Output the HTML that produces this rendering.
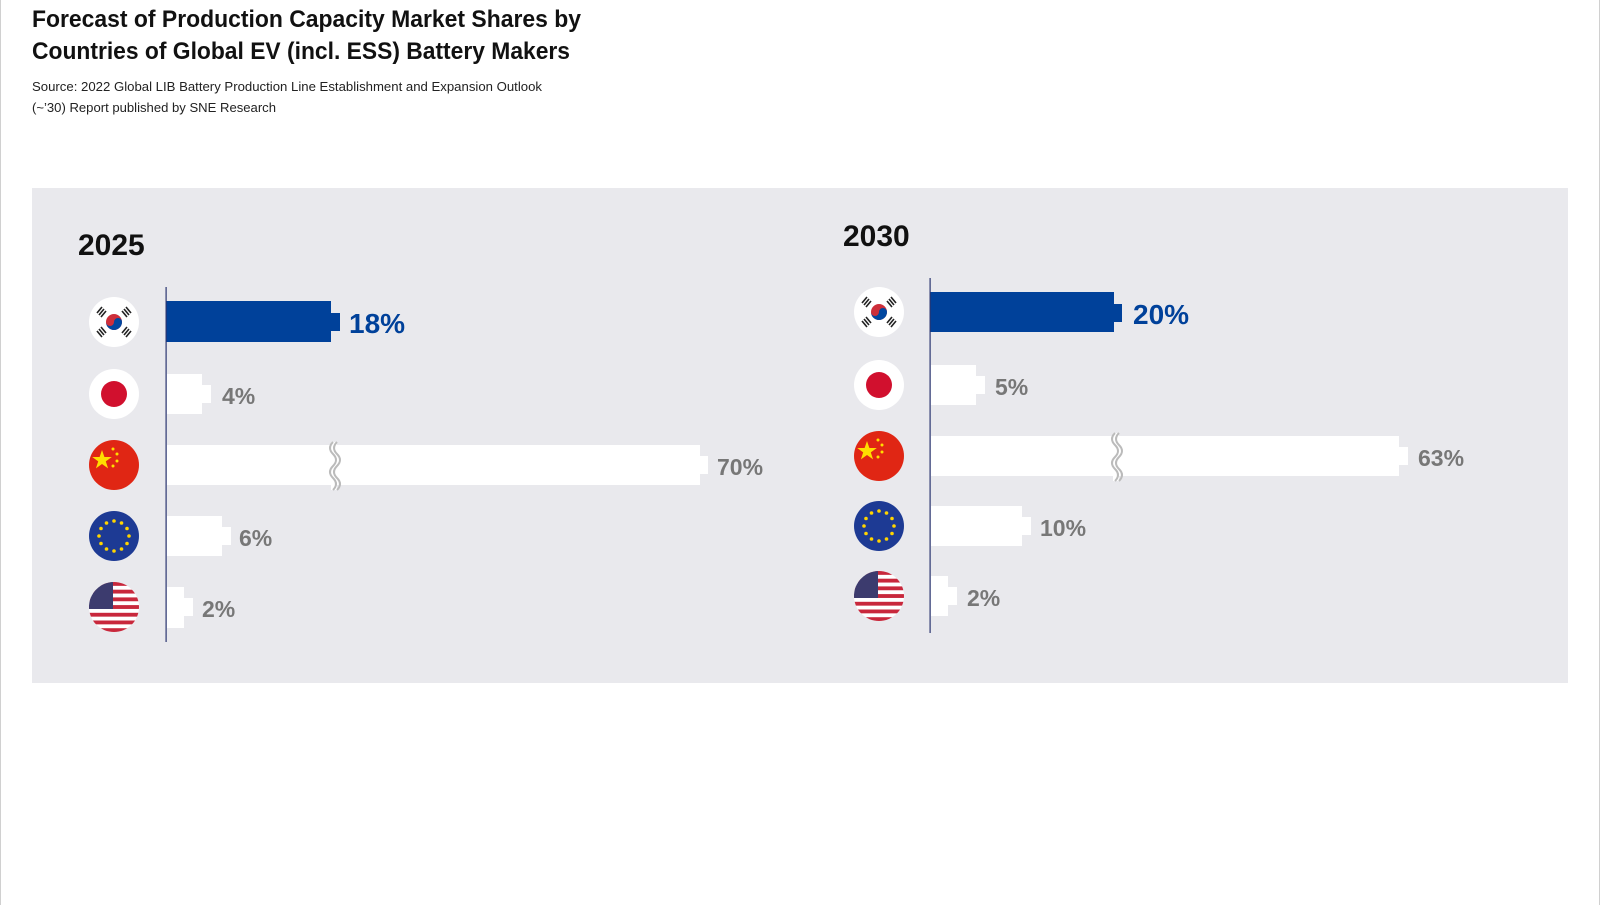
<!DOCTYPE html>
<html><head><meta charset="utf-8"><style>
html,body{margin:0;padding:0;background:#fff;width:1600px;height:905px;overflow:hidden}
svg{display:block}
text{font-family:"Liberation Sans",sans-serif}
</style></head><body>
<svg width="1600" height="905" viewBox="0 0 1600 905" xmlns="http://www.w3.org/2000/svg">
<defs>
<clipPath id="c1"><circle cx="0" cy="0" r="25"/></clipPath>
<g id="kr"><circle r="25" fill="#fff"/><circle r="8" fill="#cd2e3a"/><path d="M-8,0 A8,8 0 0,0 8,0 A4,4 0 0,0 0,0 A4,4 0 0,1 -8,0Z" fill="#0047a0"/>
<g stroke="#222" stroke-width="1.6"><path d="M-17,-9 l5,-6 M-15,-7 l5,-6 M-13,-5 l5,-6"/><path d="M17,-9 l-5,-6 M15,-7 l-5,-6 M13,-5 l-5,-6"/><path d="M-17,9 l5,6 M-15,7 l5,6 M-13,5 l5,6"/><path d="M17,9 l-5,6 M15,7 l-5,6 M13,5 l-5,6"/></g></g>
<g id="jp"><circle r="25" fill="#fff"/><circle r="13" fill="#d1102e"/></g>
<g id="cn"><circle r="25" fill="#e02614"/><polygon points="-12,-15 -9.6,-8 -2.2,-8 -8.2,-3.6 -5.9,3.4 -12,-1 -18.1,3.4 -15.8,-3.6 -21.8,-8 -14.4,-8" fill="#ffde00"/><g fill="#ffde00"><circle cx="-1" cy="-16" r="1.5"/><circle cx="3" cy="-11" r="1.5"/><circle cx="3" cy="-4" r="1.5"/><circle cx="-1" cy="1" r="1.5"/></g></g>
<g id="eu"><circle r="25" fill="#1d3a94"/><g fill="#ffd400">
<circle cx="0" cy="-15" r="1.8"/><circle cx="7.5" cy="-13" r="1.8"/><circle cx="13" cy="-7.5" r="1.8"/><circle cx="15" cy="0" r="1.8"/><circle cx="13" cy="7.5" r="1.8"/><circle cx="7.5" cy="13" r="1.8"/><circle cx="0" cy="15" r="1.8"/><circle cx="-7.5" cy="13" r="1.8"/><circle cx="-13" cy="7.5" r="1.8"/><circle cx="-15" cy="0" r="1.8"/><circle cx="-13" cy="-7.5" r="1.8"/><circle cx="-7.5" cy="-13" r="1.8"/></g></g>
<g id="us"><g clip-path="url(#c1)"><rect x="-25" y="-25" width="50" height="50" fill="#fff"/>
<g fill="#c8283c"><rect x="-25" y="-25" width="50" height="3.85"/><rect x="-25" y="-17.3" width="50" height="3.85"/><rect x="-25" y="-9.6" width="50" height="3.85"/><rect x="-25" y="-1.9" width="50" height="3.85"/><rect x="-25" y="5.8" width="50" height="3.85"/><rect x="-25" y="13.5" width="50" height="3.85"/><rect x="-25" y="21.2" width="50" height="3.85"/></g>
<rect x="-25" y="-25" width="24" height="27" fill="#3c3b6e"/></g></g>
<g id="brk"><rect x="-6" y="-4" width="12" height="50" fill="#e9e9ed"/><rect x="-2" y="-4" width="12" height="50" fill="#fff"/></g>
</defs>
<rect x="0" y="0" width="1" height="905" fill="#d0d0d0"/>
<rect x="1599" y="0" width="1" height="905" fill="#d0d0d0"/>
<text x="32" y="27" font-size="24" font-weight="bold" fill="#111" textLength="549" lengthAdjust="spacingAndGlyphs">Forecast of Production Capacity Market Shares by</text>
<text x="32" y="59" font-size="24" font-weight="bold" fill="#111" textLength="538" lengthAdjust="spacingAndGlyphs">Countries of Global EV (incl. ESS) Battery Makers</text>
<text x="32" y="91" font-size="13" fill="#222" textLength="510" lengthAdjust="spacingAndGlyphs">Source: 2022 Global LIB Battery Production Line Establishment and Expansion Outlook</text>
<text x="32" y="112" font-size="13" fill="#222" textLength="244" lengthAdjust="spacingAndGlyphs">(~’30) Report published by SNE Research</text>
<rect x="32" y="188" width="1536" height="495" fill="#e9e9ed"/>

<!-- 2025 -->
<text x="78" y="255" font-size="30" font-weight="bold" fill="#111">2025</text>
<use href="#kr" x="114" y="322"/><use href="#jp" x="114" y="394"/><use href="#cn" x="114" y="465"/><use href="#eu" x="114" y="536"/><use href="#us" x="114" y="607"/>
<rect x="166" y="301" width="165" height="41" fill="#00419a"/><rect x="330" y="313" width="10" height="18" fill="#00419a"/>
<text x="349" y="333" font-size="28" font-weight="bold" fill="#00419a">18%</text>
<rect x="167" y="374" width="35" height="40" fill="#fff"/><rect x="201" y="385" width="10" height="18" fill="#fff"/>
<text x="222" y="404" font-size="23" font-weight="bold" fill="#777">4%</text>
<rect x="167" y="445" width="533" height="40" fill="#fff"/><rect x="699" y="456" width="9" height="18" fill="#fff"/>
<g transform="translate(334,442)"><rect x="-3" y="0" width="6" height="48" fill="#fff"/><path d="M-1,0 q-6,6 0,12 t0,12 t0,12 t0,12" stroke="#bbb" stroke-width="2" fill="none"/><path d="M3,0 q-6,6 0,12 t0,12 t0,12 t0,12" stroke="#bbb" stroke-width="2" fill="none"/></g>
<text x="717" y="475" font-size="23" font-weight="bold" fill="#777">70%</text>
<rect x="167" y="516" width="55" height="40" fill="#fff"/><rect x="221" y="527" width="10" height="18" fill="#fff"/>
<text x="239" y="546" font-size="23" font-weight="bold" fill="#777">6%</text>
<rect x="167" y="587" width="17" height="41" fill="#fff"/><rect x="183" y="598" width="10" height="18" fill="#fff"/>
<text x="202" y="617" font-size="23" font-weight="bold" fill="#777">2%</text>
<rect x="165.5" y="287" width="1.2" height="355" fill="#2a3570"/>

<!-- 2030 -->
<text x="843" y="246" font-size="30" font-weight="bold" fill="#111">2030</text>
<use href="#kr" x="879" y="312"/><use href="#jp" x="879" y="385"/><use href="#cn" x="879" y="456"/><use href="#eu" x="879" y="526"/><use href="#us" x="879" y="596"/>
<rect x="930" y="292" width="184" height="40" fill="#00419a"/><rect x="1113" y="304" width="9" height="18" fill="#00419a"/>
<text x="1133" y="324" font-size="28" font-weight="bold" fill="#00419a">20%</text>
<rect x="931" y="365" width="45" height="40" fill="#fff"/><rect x="975" y="376" width="10" height="18" fill="#fff"/>
<text x="995" y="395" font-size="23" font-weight="bold" fill="#777">5%</text>
<rect x="931" y="436" width="468" height="40" fill="#fff"/><rect x="1398" y="447" width="10" height="18" fill="#fff"/>
<g transform="translate(1116,433)"><rect x="-3" y="0" width="6" height="48" fill="#fff"/><path d="M-1,0 q-6,6 0,12 t0,12 t0,12 t0,12" stroke="#bbb" stroke-width="2" fill="none"/><path d="M3,0 q-6,6 0,12 t0,12 t0,12 t0,12" stroke="#bbb" stroke-width="2" fill="none"/></g>
<text x="1418" y="466" font-size="23" font-weight="bold" fill="#777">63%</text>
<rect x="931" y="506" width="91" height="40" fill="#fff"/><rect x="1021" y="517" width="10" height="18" fill="#fff"/>
<text x="1040" y="536" font-size="23" font-weight="bold" fill="#777">10%</text>
<rect x="931" y="576" width="17" height="40" fill="#fff"/><rect x="947" y="587" width="10" height="18" fill="#fff"/>
<text x="967" y="606" font-size="23" font-weight="bold" fill="#777">2%</text>
<rect x="929.5" y="278" width="1.2" height="355" fill="#2a3570"/>
</svg>
</body></html>
